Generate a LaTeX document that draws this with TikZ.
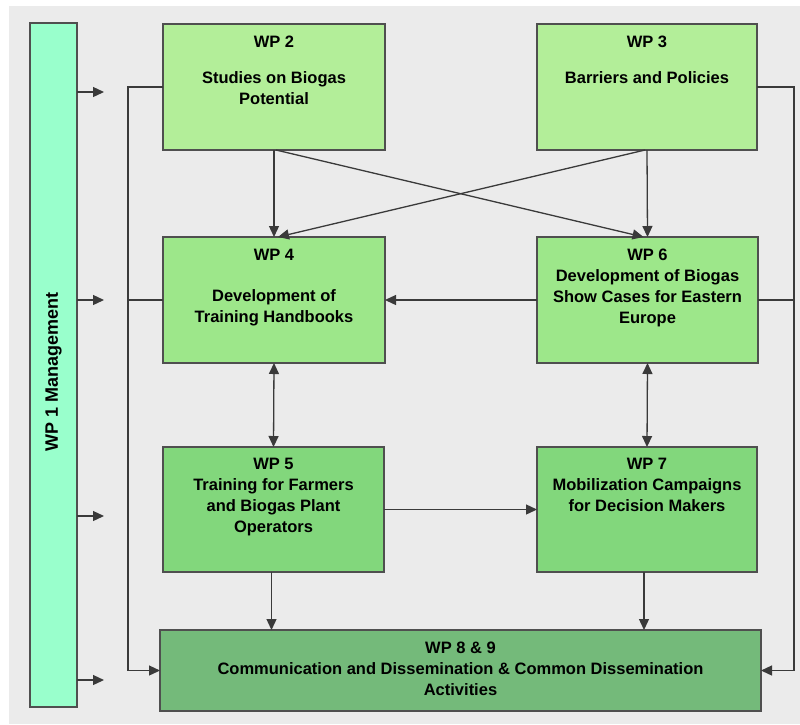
\documentclass[tikz,border=0pt]{standalone}
\usepackage{fontspec}
\setmainfont{Liberation Sans}
\usetikzlibrary{arrows.meta}
\definecolor{bgc}{HTML}{EBEBEB}
\definecolor{barc}{HTML}{99FFCC}
\definecolor{cA}{HTML}{B3EE99}
\definecolor{cB}{HTML}{9DE78A}
\definecolor{cC}{HTML}{82D77C}
\definecolor{cD}{HTML}{74BA7A}
\definecolor{edge}{HTML}{4F4F4F}
\definecolor{linec}{HTML}{3A3A3A}
\tikzset{
  box/.style={draw=edge, line width=1.3pt, inner sep=0pt, outer sep=0pt},
  txt/.style={align=center, inner sep=0pt, anchor=north, font=\bfseries\fontsize{16.5}{21}\selectfont},
  conn/.style={draw=linec, line width=1.3pt},
  arr/.style={conn, -{Triangle[length=11pt,width=10pt]}},
  darr/.style={conn, {Triangle[length=11pt,width=10pt]}-{Triangle[length=11pt,width=10pt]}}
}
\begin{document}
\begin{tikzpicture}[x=1pt,y=-1pt]
\useasboundingbox (0,0) rectangle (800,724);
\fill[white] (0,0) rectangle (800,724);
\fill[bgc] (9,6) rectangle (800,724);

% left bar
\node[box, fill=barc, minimum width=47pt, minimum height=684pt] (bar) at (53.5,365) {};
\node[txt, anchor=center, rotate=90, font=\bfseries\fontsize{18}{21}\selectfont] (tbar) at (53.5,372) {WP 1 Management};

% boxes
\node[box, fill=cA, minimum width=222pt, minimum height=126pt] (w2) at (274,87) {};
\node[box, fill=cA, minimum width=220pt, minimum height=126pt] (w3) at (647,87) {};
\node[box, fill=cB, minimum width=222pt, minimum height=126pt] (w4) at (274,300) {};
\node[box, fill=cB, minimum width=221pt, minimum height=126pt] (w6) at (647.5,300) {};
\node[box, fill=cC, minimum width=221pt, minimum height=125pt] (w5) at (273.5,509.5) {};
\node[box, fill=cC, minimum width=220pt, minimum height=125pt] (w7) at (647,509.5) {};
\node[box, fill=cD, minimum width=601pt, minimum height=81pt] (w8) at (460.5,670.5) {};

% texts
\node[txt] (t2) at (274,36) {WP 2\\[15pt]Studies on Biogas\\Potential};
\node[txt] (t3) at (647,36) {WP 3\\[15pt]Barriers and Policies};
\node[txt] (t4) at (274,249) {WP 4\\[20pt]Development of\\Training Handbooks};
\node[txt] (t6) at (647.5,249) {WP 6\\Development of Biogas\\Show Cases for Eastern\\Europe};
\node[txt] (t5) at (273.5,458) {WP 5\\Training for Farmers\\and Biogas Plant\\Operators};
\node[txt] (t7) at (647,458) {WP 7\\Mobilization Campaigns\\for Decision Makers};
\node[txt] (t8) at (460.5,642) {WP 8 \& 9\\Communication and Dissemination \& Common Dissemination\\Activities};

% helper coordinates
\coordinate (lx) at (128,0);
\coordinate (rx) at (794,0);
\coordinate (b1) at (104,92);
\coordinate (b2) at (104,300);
\coordinate (b3) at (104,516);
\coordinate (b4) at (104,680);

% arrows from management bar
\draw[arr] (bar.east |- b1) -- (b1);
\draw[arr] (bar.east |- b2) -- (b2);
\draw[arr] (bar.east |- b3) -- (b3);
\draw[arr] (bar.east |- b4) -- (b4);

% side collector lines
\draw[arr] (w2.west) -| (w8.west -| lx) -- (w8.west);
\draw[conn] (w4.west) -- (w4.west -| lx);
\draw[arr] (w3.east) -| (w8.east -| rx) -- (w8.east);
\draw[conn] (w6.east) -- (w6.east -| rx);

% top crossing arrows
\draw[arr] (w2.south) -- (w4.north);
\draw[arr] ([xshift=2pt]w2.south) -- ([xshift=-4pt]w6.north);
\draw[arr] ([xshift=-2pt]w3.south) -- ([xshift=4pt]w4.north);
\draw[arr] (w3.south) -- (w6.north);

% middle
\draw[arr] (w6.west) -- (w4.east);
\draw[darr] (w4.south) -- (w5.north);
\draw[darr] (w6.south) -- (w7.north);
\draw[arr] (w5.east) -- (w7.west);

% bottom
\draw[arr] ([xshift=-2pt]w5.south) -- ([xshift=-2pt]w5.south |- w8.north);
\draw[arr] ([xshift=-3pt]w7.south) -- ([xshift=-3pt]w7.south |- w8.north);
\end{tikzpicture}
\end{document}
